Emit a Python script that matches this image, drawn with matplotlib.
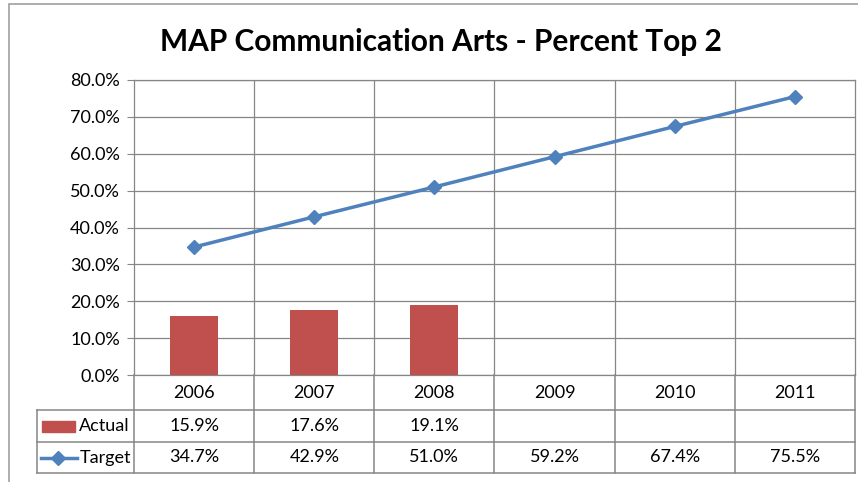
import matplotlib
matplotlib.use("Agg")
import matplotlib.pyplot as plt
import numpy as np
from matplotlib.patches import Rectangle
from matplotlib.lines import Line2D
from matplotlib.ticker import FuncFormatter

plt.rcParams['font.family'] = ['Lato', 'DejaVu Sans']

# data
years = ['2006', '2007', '2008', '2009', '2010', '2011']
actual = [15.9, 17.6, 19.1, np.nan, np.nan, np.nan]
target = [34.7, 42.9, 51.0, 59.2, 67.4, 75.5]

W, H = 858, 482
red = '#C0504D'
blue = '#4F81BD'
grid_c = '#868686'
fs = 13


def fx(px):
    return px / W


def fy(py):
    return 1 - py / H


fig = plt.figure(figsize=(W / 100, H / 100), dpi=100)

# outer chart frame (cut off on right and bottom like the screenshot)
fig.add_artist(Rectangle((fx(9), fy(490)), 1, (490 - 4) / H, transform=fig.transFigure,
                         fill=False, edgecolor='#A0A0A0', lw=1.2))

fig.text(fx(441), fy(42), 'MAP Communication Arts - Percent Top 2',
         ha='center', va='center', fontsize=21.5, fontweight='bold')

# main plot area
ax = fig.add_axes([fx(134), fy(375), 721 / W, 295 / H])
x = np.arange(len(years))
ax.bar(x, np.array(actual) / 100, width=0.4, color=red, zorder=3)
ax.plot(x, np.array(target) / 100, color=blue, lw=2.5, marker='D', ms=7,
        zorder=4)

ax.set_xlim(-0.5, len(years) - 0.5)
ax.set_ylim(0, 0.8)
ax.set_yticks(np.arange(0, 0.81, 0.1))
ax.yaxis.set_major_formatter(FuncFormatter(lambda v, p: f'{v * 100:.1f}%'))
ax.set_xticks([])
ax.grid(axis='y', color=grid_c, lw=0.9, zorder=0)
for b in np.arange(0.5, len(years) - 0.5, 1):
    ax.axvline(b, color=grid_c, lw=0.9, zorder=0)
for s in ax.spines.values():
    s.set_color(grid_c)
    s.set_linewidth(0.9)
ax.tick_params(axis='y', length=5, color=grid_c, labelsize=fs, pad=5)

# data table under the plot
tax = fig.add_axes([fx(134), fy(473), 721 / W, 98 / H])
tax.set_xlim(-0.5, len(years) - 0.5)
tax.set_ylim(98, 0)
tax.axis('off')

left = -0.5 - (134 - 37) / 120
row_lines = [35, 67, 98]
for yy in row_lines:
    tax.add_line(Line2D([left, len(years) - 0.5], [yy, yy], color=grid_c, lw=1.1,
                        clip_on=False))
tax.add_line(Line2D([left, left], [35, 98], color=grid_c, lw=1.1, clip_on=False))
for b in np.arange(-0.5, len(years), 1):
    tax.add_line(Line2D([b, b], [0, 98], color=grid_c, lw=1.1, clip_on=False))

for i, yr in enumerate(years):
    tax.text(i, 17.5, yr, ha='center', va='center', fontsize=fs)
    if not np.isnan(actual[i]):
        tax.text(i, 51, f'{actual[i]:.1f}%', ha='center', va='center', fontsize=fs)
    tax.text(i, 82.5, f'{target[i]:.1f}%', ha='center', va='center', fontsize=fs)


def px2x(px):
    return -0.5 + (px - 134) / 120


# legend keys inside the table
tax.add_patch(Rectangle((px2x(42), 45.5), px2x(75) - px2x(42), 11, color=red,
                        clip_on=False))
tax.text(px2x(79.5), 51, 'Actual', ha='left', va='center', fontsize=fs)
tax.add_line(Line2D([px2x(41), px2x(77)], [82.5, 82.5], color=blue, lw=2.5,
                    clip_on=False))
tax.add_line(Line2D([px2x(58)], [82.5], color=blue, marker='D', ms=7,
                    clip_on=False))
tax.text(px2x(79.5), 82.5, 'Target', ha='left', va='center', fontsize=fs)

fig.savefig('out.png', dpi=100)
